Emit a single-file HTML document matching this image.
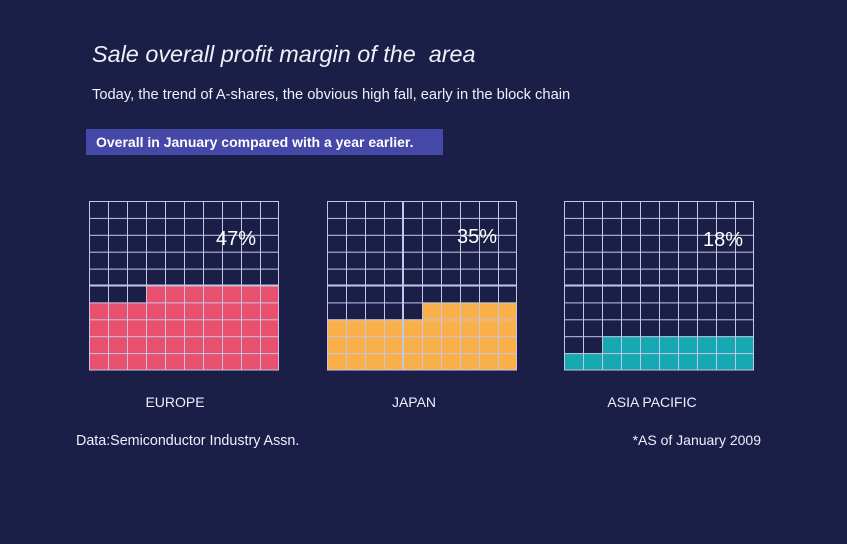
<!DOCTYPE html>
<html><head><meta charset="utf-8"><style>
body{margin:0;width:847px;height:544px;background:#1b1f47;overflow:hidden;font-family:"Liberation Sans",sans-serif;position:relative;color:#fff}
.t{position:absolute;white-space:nowrap}
</style></head><body>
<div class="t" style="left:92px;top:41px;font-size:23.4px;font-style:italic;font-weight:300;color:#f0f0f8">Sale overall profit margin of the&nbsp; area</div>
<div class="t" style="left:92px;top:87px;font-size:14.7px;color:#f0f0f8">Today, the trend of A-shares, the obvious high fall, early in the block chain</div>
<div style="position:absolute;left:86px;top:129px;width:357px;height:26px;background:#4548a6"></div>
<div class="t" style="left:96px;top:134px;font-size:14px;font-weight:bold">Overall in January compared with a year earlier.</div>
<svg style="position:absolute;left:0;top:0" width="847" height="544">
<defs>
<pattern id="g1" x="89" y="201" width="19" height="16.9" patternUnits="userSpaceOnUse">
<path d="M0.5 0V16.9M0 0.5H19" stroke="#c4c7e4" stroke-width="1" fill="none"/>
</pattern>
<pattern id="g2" x="327" y="201" width="19" height="16.9" patternUnits="userSpaceOnUse">
<path d="M0.5 0V16.9M0 0.5H19" stroke="#c4c7e4" stroke-width="1" fill="none"/>
</pattern>
<pattern id="g3" x="564" y="201" width="19" height="16.9" patternUnits="userSpaceOnUse">
<path d="M0.5 0V16.9M0 0.5H19" stroke="#c4c7e4" stroke-width="1" fill="none"/>
</pattern>
</defs>
<rect x="89" y="302.4" width="190" height="67.6" fill="#e8506e"/>
<rect x="146" y="285.5" width="133" height="17" fill="#e8506e"/>
<rect x="327" y="319.3" width="190" height="50.7" fill="#f9b04b"/>
<rect x="422" y="302.4" width="95" height="17" fill="#f9b04b"/>
<rect x="564" y="353.1" width="190" height="16.9" fill="#17a9b1"/>
<rect x="602" y="336.2" width="152" height="17" fill="#17a9b1"/>
<rect x="89" y="201" width="190" height="169" fill="url(#g1)"/>
<rect x="327" y="201" width="190" height="169" fill="url(#g2)"/>
<rect x="564" y="201" width="190" height="169" fill="url(#g3)"/>
<g stroke="#c4c7e4" fill="none">
<rect x="89.5" y="201.5" width="189" height="168.5"/>
<rect x="327.5" y="201.5" width="189" height="168.5"/>
<rect x="564.5" y="201.5" width="189" height="168.5"/>
<line x1="89" y1="285.5" x2="279" y2="285.5" stroke-width="2"/>
<line x1="327" y1="285.5" x2="517" y2="285.5" stroke-width="2"/>
<line x1="564" y1="285.5" x2="754" y2="285.5" stroke-width="2"/>
<line x1="403" y1="201" x2="403" y2="370" stroke-width="2"/>
</g>
<g font-family="Liberation Sans, sans-serif" fill="#fff" font-size="20">
<text x="236" y="245" text-anchor="middle">47%</text>
<text x="477" y="243" text-anchor="middle">35%</text>
<text x="723" y="246" text-anchor="middle">18%</text>
</g>
<g font-family="Liberation Sans, sans-serif" fill="#eef" font-size="14">
<text x="175" y="407" text-anchor="middle">EUROPE</text>
<text x="414" y="407" text-anchor="middle">JAPAN</text>
<text x="652" y="407" text-anchor="middle">ASIA PACIFIC</text>
<text x="76" y="445" font-size="14.3">Data:Semiconductor Industry Assn.</text>
<text x="761" y="445" text-anchor="end">*AS of January 2009</text>
</g>
</svg>
</body></html>
